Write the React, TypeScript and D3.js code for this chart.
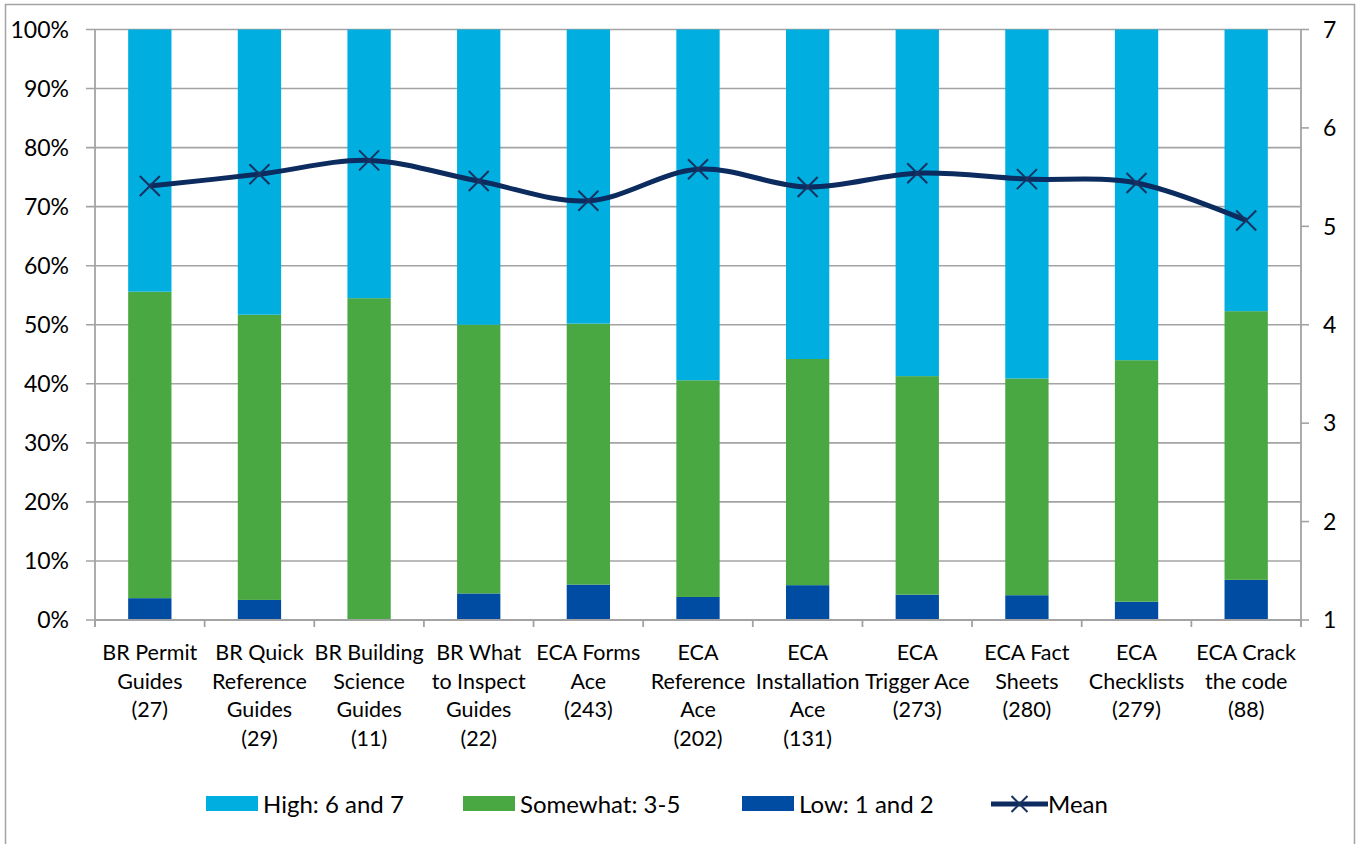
import React from "react";
import * as d3 from "d3";

// Survey categories, each split over several lines for the axis
const categories: string[][] = [
  ["BR Permit", "Guides", "(27)"],
  ["BR Quick", "Reference", "Guides", "(29)"],
  ["BR Building", "Science", "Guides", "(11)"],
  ["BR What", "to Inspect", "Guides", "(22)"],
  ["ECA Forms", "Ace", "(243)"],
  ["ECA", "Reference", "Ace", "(202)"],
  ["ECA", "Installation", "Ace", "(131)"],
  ["ECA", "Trigger Ace", "(273)"],
  ["ECA Fact", "Sheets", "(280)"],
  ["ECA", "Checklists", "(279)"],
  ["ECA Crack", "the code", "(88)"],
];

// Share of responses (percent) per rating band
const low: number[] = [3.7, 3.4, 0, 4.5, 6.0, 3.9, 5.9, 4.3, 4.2, 3.1, 6.8];
const somewhat: number[] = [51.9, 48.3, 54.5, 45.5, 44.2, 36.7, 38.3, 37.0, 36.7, 40.9, 45.5];
const high: number[] = [44.4, 48.3, 45.5, 50.0, 49.8, 59.4, 55.8, 58.7, 59.1, 56.0, 47.7];

// Mean rating on the 1–7 scale
const mean: number[] = [5.41, 5.53, 5.67, 5.46, 5.26, 5.58, 5.4, 5.54, 5.48, 5.44, 5.06];

const pctTicks: number[] = [0, 10, 20, 30, 40, 50, 60, 70, 80, 90, 100];
const meanTicks: number[] = [1, 2, 3, 4, 5, 6, 7];

const seriesNames = ["High: 6 and 7", "Somewhat: 3-5", "Low: 1 and 2", "Mean"];

const W = 1362;
const H = 844;
const plot = { left: 95, right: 1301, top: 29.5, bottom: 620 };
const FONT = "Lato, 'Open Sans', sans-serif";
const GRID = "#a3a3a3";
const C_HIGH = "#00aee0";
const C_SOME = "#4aa842";
const C_LOW = "#004ca3";
const C_MEAN = "#0c2b5e";
const C_MARK = "#1a3260";

export default function App() {
  const idx = categories.map((_, i) => String(i));
  const x = d3.scaleBand<string>().domain(idx).range([plot.left, plot.right]).paddingInner(0).paddingOuter(0);
  const y = d3.scaleLinear().domain([0, 100]).range([plot.bottom, plot.top]);
  const y2 = d3.scaleLinear().domain([1, 7]).range([plot.bottom, plot.top]);
  const barW = x.bandwidth() * 0.395;

  const rows = categories.map((_, i) => ({ low: low[i], somewhat: somewhat[i], high: high[i] }));
  const stack = d3.stack<{ low: number; somewhat: number; high: number }>().keys(["low", "somewhat", "high"]);
  const layers = stack(rows);
  const colorOf: Record<string, string> = { low: C_LOW, somewhat: C_SOME, high: C_HIGH };

  const cx = (i: number) => (x(String(i)) as number) + x.bandwidth() / 2;
  const line = d3
    .line<number>()
    .x((_, i) => cx(i))
    .y((d) => y2(d))
    .curve(d3.curveCatmullRom.alpha(0));

  const boundaries = d3.range(categories.length + 1).map((k) => plot.left + k * x.bandwidth());

  // Legend layout
  const legendY = 804;
  const legendItems = [
    { name: seriesNames[0], kind: "rect", color: C_HIGH, x: 206 },
    { name: seriesNames[1], kind: "rect", color: C_SOME, x: 463 },
    { name: seriesNames[2], kind: "rect", color: C_LOW, x: 742 },
    { name: seriesNames[3], kind: "line", color: C_MEAN, x: 991 },
  ];

  const xMark = (px: number, py: number, s: number) =>
    `M${px - s},${py - s}L${px + s},${py + s}M${px - s},${py + s}L${px + s},${py - s}`;

  return (
    <svg width={W} height={H} style={{ position: "absolute", left: 0, top: 0 }} fontFamily={FONT}>
      <rect x={0} y={0} width={W} height={H} fill="#fff" />
      <rect x={5.5} y={4.5} width={1349} height={900} fill="none" stroke={GRID} strokeWidth={1.5} />

      {/* horizontal gridlines with left tick extension */}
      {pctTicks.map((t) => (
        <line key={t} x1={plot.left - 9} x2={plot.right} y1={y(t)} y2={y(t)} stroke={GRID} strokeWidth={1.6} />
      ))}

      {/* stacked bars */}
      {layers.map((layer) => (
        <g key={layer.key} fill={colorOf[layer.key]}>
          {layer.map((d, i) =>
            d[1] - d[0] > 0 ? (
              <rect key={i} x={cx(i) - barW / 2} width={barW} y={y(d[1])} height={y(d[0]) - y(d[1])} />
            ) : null
          )}
        </g>
      ))}

      {/* axes */}
      <line x1={plot.left} x2={plot.left} y1={plot.top} y2={plot.bottom + 7} stroke={GRID} strokeWidth={1.8} />
      <line x1={plot.right} x2={plot.right} y1={plot.top} y2={plot.bottom + 7} stroke={GRID} strokeWidth={1.8} />
      <line x1={plot.left} x2={plot.right} y1={plot.bottom} y2={plot.bottom} stroke={GRID} strokeWidth={1.8} />
      {boundaries.map((bx, k) => (
        <line key={k} x1={bx} x2={bx} y1={plot.bottom} y2={plot.bottom + 7} stroke={GRID} strokeWidth={1.8} />
      ))}
      {meanTicks.map((t) => (
        <line key={t} x1={plot.right} x2={plot.right + 8} y1={y2(t)} y2={y2(t)} stroke={GRID} strokeWidth={1.6} />
      ))}

      {/* left axis labels */}
      {pctTicks.map((t) => (
        <text key={t} x={69} y={y(t)} dy="0.36em" textAnchor="end" fontSize={23} fill="#000">
          {t}%
        </text>
      ))}
      {/* right axis labels */}
      {meanTicks.map((t) => (
        <text key={t} x={1323} y={y2(t)} dy="0.36em" textAnchor="start" fontSize={23} fill="#000">
          {t}
        </text>
      ))}

      {/* category labels */}
      {categories.map((lines, i) => (
        <text key={i} x={cx(i)} y={660} textAnchor="middle" fontSize={21.5} fill="#000">
          {lines.map((s, j) => (
            <tspan key={j} x={cx(i)} y={660 + j * 28.7}>
              {s}
            </tspan>
          ))}
        </text>
      ))}

      {/* mean line */}
      <path d={line(mean) || ""} fill="none" stroke={C_MEAN} strokeWidth={5} strokeLinejoin="round" />
      {mean.map((m, i) => (
        <path key={i} d={xMark(cx(i), y2(m), 10)} stroke={C_MARK} strokeWidth={2} fill="none" />
      ))}

      {/* legend */}
      {legendItems.map((it) => (
        <g key={it.name}>
          {it.kind === "rect" ? (
            <rect x={it.x} y={legendY - 8} width={52} height={15} fill={it.color} />
          ) : (
            <g>
              <line x1={it.x} x2={it.x + 57} y1={legendY} y2={legendY} stroke={it.color} strokeWidth={5} />
              <path d={xMark(it.x + 28.5, legendY, 8)} stroke={C_MARK} strokeWidth={2} fill="none" />
            </g>
          )}
          <text x={it.kind === "rect" ? it.x + 57 : it.x + 57} y={legendY} dy="0.36em" fontSize={24} fill="#000">
            {it.name}
          </text>
        </g>
      ))}
    </svg>
  );
}
